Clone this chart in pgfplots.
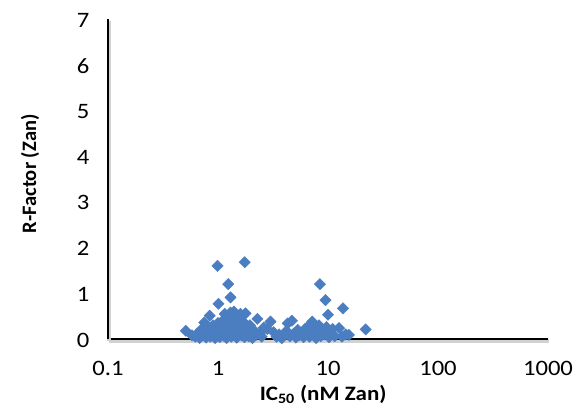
\documentclass[border=0pt]{standalone}
\usepackage{pgfplots}
\pgfplotsset{compat=1.18}
\usepackage{fontspec}
\setmainfont{Carlito}
\newfontfamily\wide{Carlito}[FakeStretch=1.12]
\definecolor{ptblue}{RGB}{74,126,193}
\begin{document}
\begin{tikzpicture}[x=1pt,y=1pt]
\useasboundingbox (0,0) rectangle (576,407);
\begin{axis}[
  at={(108pt,68pt)}, anchor=south west,
  scale only axis, width=440pt, height=320pt,
  xmode=log, xmin=0.1, xmax=1000, ymin=0, ymax=7,
  axis x line=bottom, axis y line=left,
  axis line style={-, line width=2.8pt, black,
    preaction={draw=black!18, line width=4pt, transform canvas={xshift=1.2pt, yshift=-2pt}}},
  major tick length=0pt, minor tick num=0,
  xtick={0.1,1,10,100,1000}, xticklabels={0.1,1,10,100,1000},
  ytick={0,1,2,3,4,5,6,7}, yticklabels={0,1,2,3,4,5,6,7},
  tick label style={font=\wide\fontsize{22}{24}\selectfont, black},
  xticklabel style={anchor=base, yshift=-37pt},
  yticklabel style={xshift=-15pt, yshift=-1pt},
  clip=false,
  xlabel={\wide\bfseries IC\textsubscript{50} (nM Zan)},
  ylabel={\bfseries R-Factor (Zan)},
  label style={font=\fontsize{20.5}{24}\selectfont},
  xlabel style={at={(axis description cs:0.489,-0.193)}, anchor=base},
  ylabel style={at={(axis description cs:-0.177,0.516)}, anchor=center},
]
\addplot[only marks, mark=square*, mark size=4pt, color=ptblue, mark options={rotate=45, fill=ptblue, draw=ptblue}] table {
x y
0.58 0.08
0.62 0.05
0.65 0.12
0.68 0.02
0.70 0.20
0.72 0.08
0.75 0.15
0.78 0.03
0.80 0.25
0.82 0.10
0.85 0.05
0.87 0.18
0.90 0.30
0.92 0.12
0.94 0.02
0.96 0.22
0.98 0.08
1.00 0.35
1.02 0.15
1.04 0.04
1.06 0.28
1.08 0.10
1.10 0.40
1.12 0.20
1.14 0.06
1.15 0.55
1.16 0.32
1.18 0.14
1.20 0.02
1.22 0.45
1.24 0.25
1.26 0.10
1.28 0.38
1.30 0.18
1.30 0.58
1.32 0.05
1.35 0.50
1.38 0.30
1.40 0.12
1.42 0.42
1.45 0.22
1.48 0.03
1.50 0.35
1.53 0.15
1.56 0.48
1.60 0.26
1.60 0.55
1.63 0.08
1.66 0.40
1.70 0.18
1.74 0.04
1.78 0.32
1.82 0.12
1.86 0.24
1.90 0.06
1.95 0.30
2.00 0.14
2.05 0.02
2.10 0.20
2.20 0.08
2.28 0.44
2.40 0.12
2.50 0.05
2.60 0.25
2.80 0.22
3.00 0.38
3.20 0.15
3.40 0.05
3.60 0.10
3.80 0.02
4.00 0.08
4.20 0.18
4.30 0.34
4.50 0.06
4.70 0.40
4.90 0.12
5.10 0.03
5.30 0.20
5.50 0.08
5.70 0.14
6.00 0.04
6.20 0.22
6.40 0.10
6.60 0.28
6.80 0.05
7.00 0.16
7.20 0.38
7.40 0.08
7.60 0.24
7.80 0.02
8.00 0.12
8.30 0.30
8.60 0.06
9.00 0.18
9.30 0.10
9.70 0.26
10.2 0.04
10.6 0.14
11.0 0.22
11.5 0.06
12.6 0.24
13.4 0.05
14.5 0.10
15.5 0.09
0.99 1.60
1.75 1.68
1.24 1.20
1.30 0.91
1.01 0.77
0.84 0.51
0.75 0.36
0.51 0.18
8.45 1.20
9.50 0.85
10.0 0.53
13.7 0.67
22.0 0.21
1.78 0.56
1.40 0.60
};
\end{axis}
\end{tikzpicture}
\end{document}
